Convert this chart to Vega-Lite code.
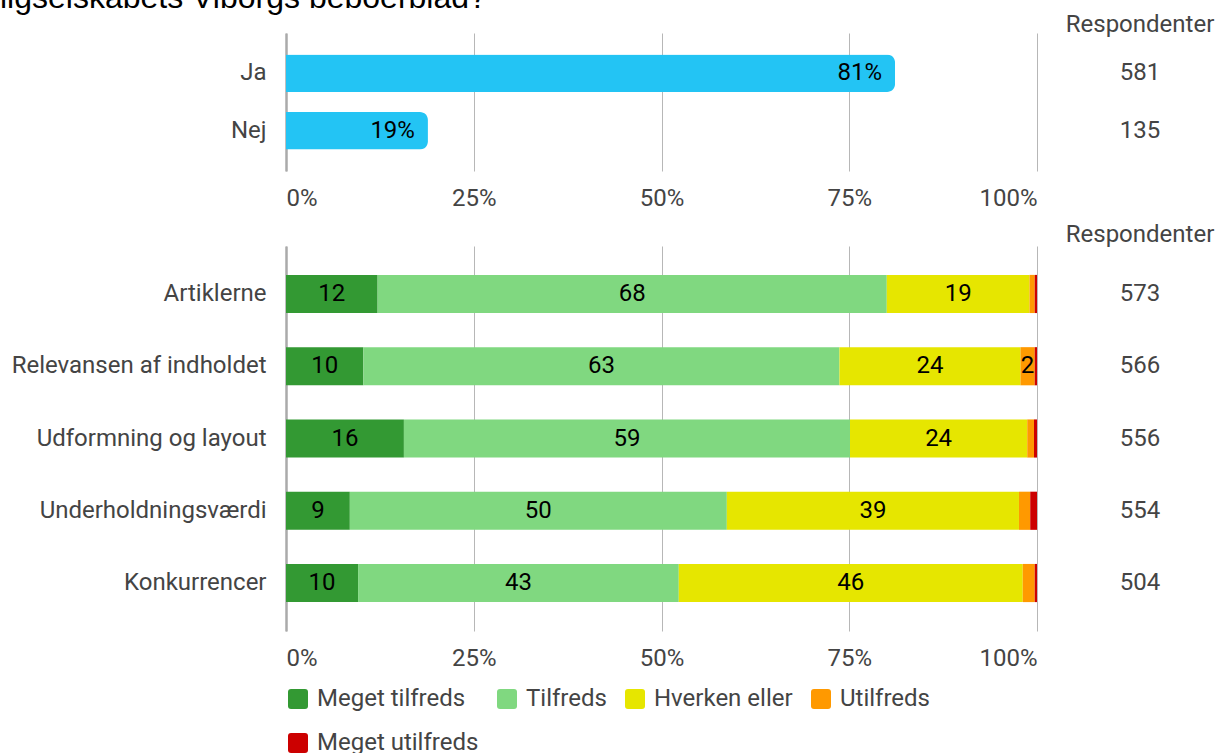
{
  "$schema": "https://vega.github.io/schema/vega-lite/v6.json",
  "padding": {"left": 0, "right": 0, "top": -18, "bottom": 0},
  "title": {"text": "ligselskabets Viborgs beboerblad?", "anchor": "start", "fontSize": 32, "font": "Liberation Sans", "fontWeight": "normal", "color": "#000", "offset": -2},
  "datasets": {
    "janej": [
      {"svar": "Ja", "andel": 0.811, "antal": 581},
      {"svar": "Nej", "andel": 0.189, "antal": 135}
    ],
    "tilfredshed": [
      {"kategori": "Artiklerne", "svar": "Meget tilfreds", "rank": 1, "pct": 12.2},
      {"kategori": "Artiklerne", "svar": "Tilfreds", "rank": 2, "pct": 67.8},
      {"kategori": "Artiklerne", "svar": "Hverken eller", "rank": 3, "pct": 19.0},
      {"kategori": "Artiklerne", "svar": "Utilfreds", "rank": 4, "pct": 0.7},
      {"kategori": "Artiklerne", "svar": "Meget utilfreds", "rank": 5, "pct": 0.3},
      {"kategori": "Relevansen af indholdet", "svar": "Meget tilfreds", "rank": 1, "pct": 10.3},
      {"kategori": "Relevansen af indholdet", "svar": "Tilfreds", "rank": 2, "pct": 63.4},
      {"kategori": "Relevansen af indholdet", "svar": "Hverken eller", "rank": 3, "pct": 24.1},
      {"kategori": "Relevansen af indholdet", "svar": "Utilfreds", "rank": 4, "pct": 1.9},
      {"kategori": "Relevansen af indholdet", "svar": "Meget utilfreds", "rank": 5, "pct": 0.3},
      {"kategori": "Udformning og layout", "svar": "Meget tilfreds", "rank": 1, "pct": 15.7},
      {"kategori": "Udformning og layout", "svar": "Tilfreds", "rank": 2, "pct": 59.4},
      {"kategori": "Udformning og layout", "svar": "Hverken eller", "rank": 3, "pct": 23.6},
      {"kategori": "Udformning og layout", "svar": "Utilfreds", "rank": 4, "pct": 0.9},
      {"kategori": "Udformning og layout", "svar": "Meget utilfreds", "rank": 5, "pct": 0.4},
      {"kategori": "Underholdningsværdi", "svar": "Meget tilfreds", "rank": 1, "pct": 8.5},
      {"kategori": "Underholdningsværdi", "svar": "Tilfreds", "rank": 2, "pct": 50.2},
      {"kategori": "Underholdningsværdi", "svar": "Hverken eller", "rank": 3, "pct": 38.9},
      {"kategori": "Underholdningsværdi", "svar": "Utilfreds", "rank": 4, "pct": 1.5},
      {"kategori": "Underholdningsværdi", "svar": "Meget utilfreds", "rank": 5, "pct": 0.9},
      {"kategori": "Konkurrencer", "svar": "Meget tilfreds", "rank": 1, "pct": 9.6},
      {"kategori": "Konkurrencer", "svar": "Tilfreds", "rank": 2, "pct": 42.7},
      {"kategori": "Konkurrencer", "svar": "Hverken eller", "rank": 3, "pct": 45.8},
      {"kategori": "Konkurrencer", "svar": "Utilfreds", "rank": 4, "pct": 1.6},
      {"kategori": "Konkurrencer", "svar": "Meget utilfreds", "rank": 5, "pct": 0.3}
    ],
    "respondenter": [
      {"kategori": "Artiklerne", "antal": 573},
      {"kategori": "Relevansen af indholdet", "antal": 566},
      {"kategori": "Udformning og layout", "antal": 556},
      {"kategori": "Underholdningsværdi", "antal": 554},
      {"kategori": "Konkurrencer", "antal": 504}
    ]
  },
  "config": {
    "font": "Roboto",
    "view": {"stroke": null},
    "axis": {"labelFontSize": 24, "labelColor": "#444", "title": null, "labelLimit": 320},
    "legend": {"gridAlign": "none"},
    "title": {"fontSize": 24, "fontWeight": "normal", "color": "#444", "anchor": "middle", "offset": -4}
  },
  "spacing": 13,
  "vconcat": [
    {
      "spacing": 28,
      "hconcat": [
        {
          "width": 751,
          "height": 138,
          "data": {"name": "janej"},
          "encoding": {
            "y": {"field": "svar", "type": "nominal", "sort": null,
              "scale": {"paddingInner": 0.35, "paddingOuter": 0.376},
              "axis": {"domain": true, "domainColor": "#aaaaaa", "domainWidth": 2.5, "ticks": false, "labelPadding": 20, "minExtent": 286, "maxExtent": 286, "grid": false}},
            "x": {"field": "andel", "type": "quantitative", "scale": {"domain": [0, 1]},
              "axis": {"format": ".0%", "values": [0, 0.25, 0.5, 0.75, 1], "grid": true, "gridColor": "#b7b7b7", "domain": false, "ticks": false, "labelFlush": true, "labelPadding": 15}}
          },
          "layer": [
            {"mark": {"type": "bar", "color": "#23c4f4", "cornerRadiusEnd": 8}},
            {"mark": {"type": "text", "align": "right", "dx": -13, "fontSize": 24, "color": "#000"},
              "encoding": {"text": {"field": "andel", "format": ".0%"}}}
          ]
        },
        {
          "width": 150,
          "height": 138,
          "title": "Respondenter",
          "data": {"name": "janej"},
          "mark": {"type": "text", "fontSize": 24, "color": "#444"},
          "encoding": {
            "y": {"field": "svar", "type": "nominal", "sort": null, "axis": null,
              "scale": {"type": "band", "paddingInner": 0.35, "paddingOuter": 0.376}},
            "text": {"field": "antal"}
          }
        }
      ]
    },
    {
      "spacing": 28,
      "hconcat": [
        {
          "width": 751,
          "height": 385,
          "data": {"name": "tilfredshed"},
          "encoding": {
            "y": {"field": "kategori", "type": "nominal", "sort": null,
              "scale": {"paddingInner": 0.472, "paddingOuter": 0.4},
              "axis": {"domain": true, "domainColor": "#aaaaaa", "domainWidth": 2.5, "ticks": false, "labelPadding": 20, "minExtent": 286, "maxExtent": 286, "grid": false}},
            "order": {"field": "rank"}
          },
          "layer": [
            {
              "mark": {"type": "bar"},
              "encoding": {
                "x": {"field": "pct", "type": "quantitative", "stack": "normalize",
                  "axis": {"format": ".0%", "values": [0, 0.25, 0.5, 0.75, 1], "grid": true, "gridColor": "#b7b7b7", "domain": false, "ticks": false, "labelFlush": true, "labelPadding": 15}},
                "color": {"field": "svar", "type": "nominal",
                  "scale": {"domain": ["Meget tilfreds", "Tilfreds", "Hverken eller", "Utilfreds", "Meget utilfreds"],
                    "range": ["#339933", "#80d880", "#e6e600", "#ff9900", "#cc0000"]},
                  "legend": {"title": null, "orient": "bottom", "direction": "horizontal", "columns": 4, "gridAlign": "none",
                    "symbolType": "M -1 -0.7 Q -1 -1 -0.7 -1 L 0.7 -1 Q 1 -1 1 -0.7 L 1 0.7 Q 1 1 0.7 1 L -0.7 1 Q -1 1 -1 0.7 Z",
                    "symbolSize": 400, "symbolStrokeWidth": 0, "labelFontSize": 24, "labelColor": "#444", "labelOffset": 7, "labelLimit": 300,
                    "columnPadding": 16, "rowPadding": 20, "offset": 17, "padding": 0}}
              }
            },
            {
              "mark": {"type": "text", "fontSize": 24, "color": "#000"},
              "encoding": {
                "x": {"field": "pct", "type": "quantitative", "stack": "normalize", "bandPosition": 0.5},
                "text": {"condition": {"test": "datum.pct >= 1.8", "field": "pct", "format": ".0f"}, "value": ""}
              }
            }
          ]
        },
        {
          "width": 150,
          "height": 385,
          "title": {"text": "Respondenter", "offset": -1},
          "data": {"name": "respondenter"},
          "mark": {"type": "text", "fontSize": 24, "color": "#444"},
          "encoding": {
            "y": {"field": "kategori", "type": "nominal", "sort": null, "axis": null,
              "scale": {"type": "band", "paddingInner": 0.472, "paddingOuter": 0.4}},
            "text": {"field": "antal"}
          }
        }
      ]
    }
  ]
}
